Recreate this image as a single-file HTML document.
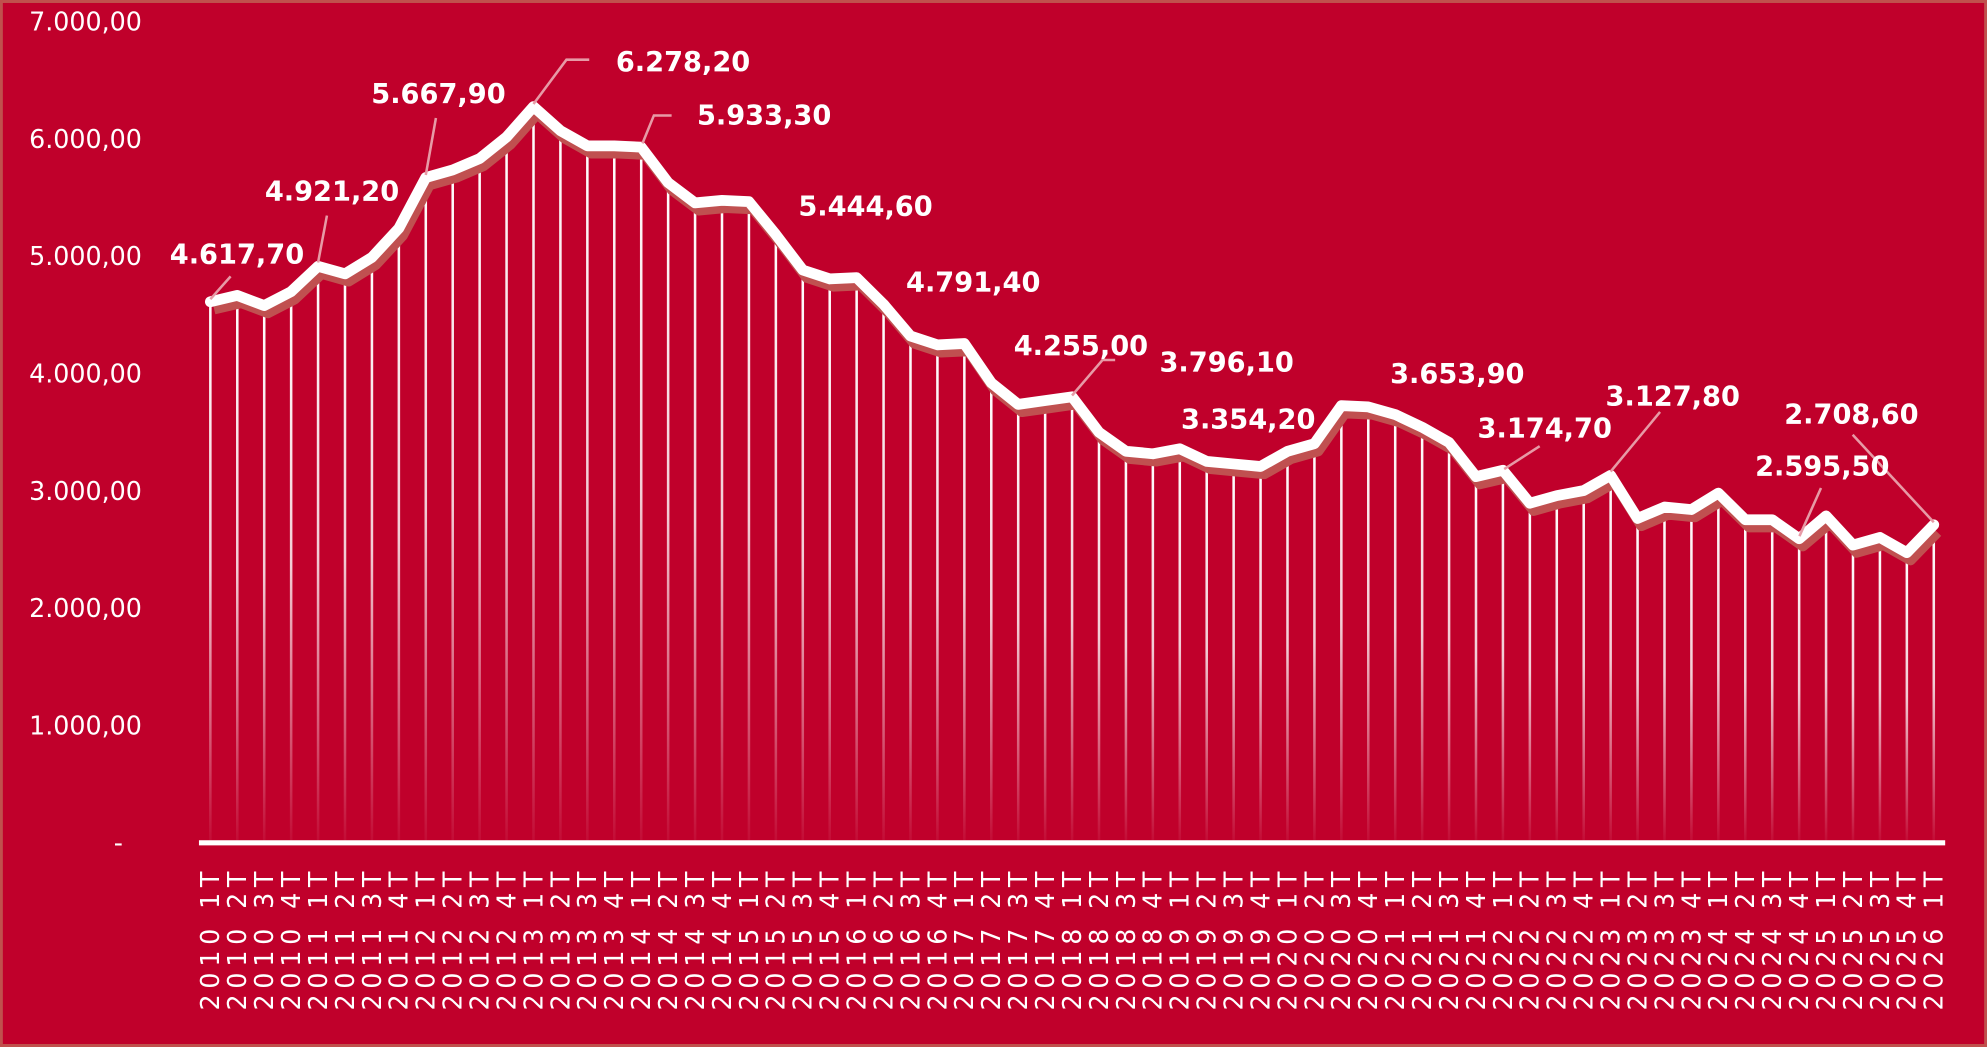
<!DOCTYPE html>
<html><head><meta charset="utf-8"><style>
html,body{margin:0;padding:0;background:#c0002b;}
svg{display:block}
</style></head><body>
<svg id="s" width="1987" height="1047" viewBox="0 0 1568 826" xmlns="http://www.w3.org/2000/svg">
<defs>
<linearGradient id="g" x1="0" y1="0" x2="0" y2="1">
<stop offset="0" stop-color="#fff" stop-opacity="1"/>
<stop offset="0.5" stop-color="#fff" stop-opacity="0.8"/>
<stop offset="1" stop-color="#fff" stop-opacity="0.05"/>
</linearGradient>
</defs>
<rect x="0" y="0" width="1568" height="826" fill="#c0002b"/>
<rect x="1" y="1" width="1566" height="824" fill="none" stroke="#c0504d" stroke-width="2.5"/>
<g id="yl" font-family="DejaVu Sans, Verdana, sans-serif" font-size="20" fill="#fff" text-anchor="end"></g>
<g id="drops"></g>
<polyline id="sh" fill="none" stroke="#c05050" stroke-width="8" stroke-linejoin="round" transform="translate(3,6)"/>
<polyline id="ln" fill="none" stroke="#fff" stroke-width="8.5" stroke-linejoin="round" stroke-linecap="round"/>
<line x1="157" y1="665" x2="1535" y2="665" stroke="#fff" stroke-width="4"/>
<g id="xl" font-family="DejaVu Sans, Verdana, sans-serif" font-size="20" fill="#fff" letter-spacing="4.6"></g>
<g stroke="#e79aa6" stroke-width="2" fill="none">
<polyline points="182,218 166,236"/>
<polyline points="258,170 251,207"/>
<polyline points="344,93 336,138"/>
<polyline points="465,47 447,47 421,82"/>
<polyline points="530,91 516,91 507,113"/>
<polyline points="880,284 870,284 846,312"/>
<polyline points="1215,352 1187,370"/>
<polyline points="1310,325 1271,372"/>
<polyline points="1437,385 1420,423"/>
<polyline points="1462,343 1526,412"/>
</g>
<g font-family="DejaVu Sans, Verdana, sans-serif" font-weight="bold" font-size="21.5" fill="#fff" text-anchor="middle">
<text x="187" y="208">4.617,70</text>
<text x="262" y="158">4.921,20</text>
<text x="346" y="81">5.667,90</text>
<text x="539" y="56">6.278,20</text>
<text x="603" y="98">5.933,30</text>
<text x="683" y="170">5.444,60</text>
<text x="768" y="230">4.791,40</text>
<text x="853" y="280">4.255,00</text>
<text x="968" y="293">3.796,10</text>
<text x="985" y="338">3.354,20</text>
<text x="1150" y="302">3.653,90</text>
<text x="1219" y="345">3.174,70</text>
<text x="1320" y="320">3.127,80</text>
<text x="1438" y="375">2.595,50</text>
<text x="1461" y="334">2.708,60</text>
</g>
</svg>
<script>
var ys=[238,233,241,230,210,216,203,180,140,134,125,108,84,103,115,115,116,144,160,158,159,185,213,220,219,240,265,272,271,302,319,316,313,341,356,358,354,364,366,368,356,350,320,321,327,337,349,376,371,397,391,387,375,409,400,402,389,410,410,425,407,430,424,436,414];
var NS="http://www.w3.org/2000/svg";
function el(t,a,p){var e=document.createElementNS(NS,t);for(var k in a)e.setAttribute(k,a[k]);document.getElementById(p).appendChild(e);return e;}
var pts=[];
for(var i=0;i<ys.length;i++){
 var x=166+i*21.25,y=ys[i];pts.push(x+","+y);
 el("rect",{x:x-1,y:y,width:2,height:663-y,fill:"url(#g)"},"drops");
 var yr=2010+Math.floor(i/4),q=i%4+1;
 var t=el("text",{x:0,y:0,"text-anchor":"end",transform:"translate("+(x+7)+",683) rotate(-90)"},"xl");
 t.textContent=yr+" "+q+"T";
}
document.getElementById("sh").setAttribute("points",pts.join(" "));
document.getElementById("ln").setAttribute("points",pts.join(" "));
var lab=["-","1.000,00","2.000,00","3.000,00","4.000,00","5.000,00","6.000,00","7.000,00"];
for(var j=0;j<8;j++){
 var yy=665-j*92.57;
 var t=el("text",{x:j==0?97:112,y:yy+7},"yl");t.textContent=lab[j];
}
</script>
</body></html>
